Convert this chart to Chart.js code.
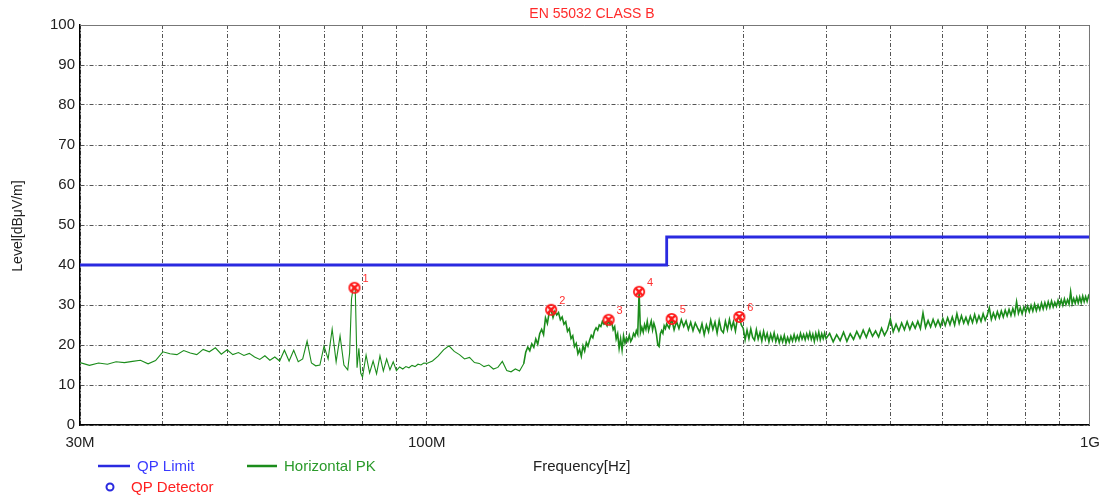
<!DOCTYPE html>
<html>
<head>
<meta charset="utf-8">
<script src="https://cdn.jsdelivr.net/npm/chart.js@4/dist/chart.umd.min.js"></script>
<style>
  html, body { margin: 0; padding: 0; background: #fff; }
</style>
</head>
<body>
<canvas id="emc" width="1109" height="500"></canvas>
<script>
// frequency in MHz, level in dBuV/m
const xGridTicks = [30, 40, 50, 60, 70, 80, 90, 100, 200, 300, 400, 500, 600, 700, 800, 900, 1000];
const xLabelValues = [30, 100, 1000];
const xLabelText = ['30M', '100M', '1G'];

const limitFreq = [30, 230, 230, 1000];
const limitLevel = [40, 40, 47, 47];

const markerFreq = [77.8, 154, 188, 209, 234, 296];
const markerLevel = [34.3, 28.8, 26.3, 33.3, 26.5, 27.0];
const markerText = ['1', '2', '3', '4', '5', '6'];

const pkFreq = [
  30, 31, 32, 33, 34, 35, 36, 37, 38, 39,
  40, 41, 42, 43, 44, 45, 46, 47, 48, 49,
  50, 51, 52, 53, 54, 55, 56, 57, 58, 59,
  60,
  61, 62, 63, 64, 65, 66, 67, 68, 69, 70,
  71, 72, 73, 74, 75, 76, 76.5, 77, 77.5, 78,
  78.5, 79, 79.5, 80, 81, 82, 83, 84, 85, 86,
  87, 88, 89, 90, 91, 92, 93, 94, 95, 96,
  97, 98, 99, 100,
  102, 104, 106, 108, 110, 112, 114, 116, 118, 120,
  122, 124, 126, 128, 130, 132, 134, 136, 138, 140,
  141, 142, 143, 144, 145, 146, 147, 148, 149, 150,
  151, 152, 153, 154, 155, 156, 157, 158, 159, 160,
  161, 162, 163, 164, 165, 166, 167, 168, 169, 170,
  171, 172, 173, 174, 175, 176, 177, 178, 179, 180,
  181, 182, 183, 184, 185, 186, 187, 188, 189, 190,
  191, 192, 193, 194, 195, 196, 197, 198, 199, 200,
  201, 202, 203, 204, 205, 206, 207, 208, 209, 210,
  211, 212, 213, 214, 215, 216, 217, 218, 219, 220,
  221, 222, 223, 224, 225, 226, 227, 228, 229, 230,
  232, 234, 236, 238, 240, 242, 244, 246, 248, 250,
  252, 254, 256, 258, 260, 262, 264, 266, 268, 270,
  272, 274, 276, 278, 280, 282, 284, 286, 288, 290,
  292, 294, 296, 298, 300, 302, 304, 306, 308, 310,
  312, 314, 316, 318, 320, 322, 324, 326, 328, 330,
  332, 334, 336, 338, 340, 342, 344, 346, 348, 350,
  352, 354, 356, 358, 360, 362, 364, 366, 368, 370,
  372, 374, 376, 378, 380, 382, 384, 386, 388, 390,
  392, 394, 396, 398, 400,
  405, 410, 415, 420, 425, 430, 435, 440, 445, 450,
  455, 460, 465, 470, 475, 480, 485, 490, 495, 500,
  505, 510, 515, 520, 525, 530, 535, 540, 545, 550,
  555, 560, 565, 570, 575, 580, 585, 590, 595, 600,
  605, 610, 615, 620, 625, 630, 635, 640, 645, 650,
  655, 660, 665, 670, 675, 680, 685, 690, 695, 700,
  705, 710, 715, 720, 725, 730, 735, 740, 745, 750,
  755, 760, 765, 770, 775, 780, 785, 790, 795, 800,
  805, 810, 815, 820, 825, 830, 835, 840, 845, 850,
  855, 860, 865, 870, 875, 880, 885, 890, 895, 900,
  905, 910, 915, 920, 925, 930, 935, 940, 945, 950,
  955, 960, 965, 970, 975, 980, 985, 990, 995, 1000
];

const pkLevel = [
  15.6, 14.9, 15.5, 15.2, 15.8, 15.6, 15.9, 16.2, 15.3, 16.1,
  18.3, 17.8, 17.6, 18.6, 18.0, 17.6, 18.9, 18.3, 19.3, 17.7,
  18.8, 17.6, 18.1, 17.4, 17.9, 17.0, 16.4, 17.3, 16.2, 17.0,
  16.0,
  18.7, 16.0, 18.7, 15.8, 16.5, 21.0, 15.5, 14.8, 15.0, 19.7,
  16.5, 24.0, 15.8, 22.3, 15.0, 13.8, 18.0, 31.5, 34.6, 34.3,
  14.3, 19.2, 13.0, 12.0, 17.5, 13.0, 16.0, 12.8, 17.3, 13.5,
  16.5, 13.8, 15.8, 13.6, 14.5, 14.0, 14.6, 14.3, 14.9, 14.6,
  15.2, 15.0, 15.5, 15.4,
  16.0, 17.2, 18.8, 19.8, 18.4, 17.6, 16.5, 16.9, 15.6, 15.4,
  14.6, 15.0, 14.0, 14.4, 15.9, 13.6, 13.3, 14.0, 13.5, 15.3,
  18.2, 19.5, 18.6, 20.3, 19.4, 21.5, 20.2, 22.8, 23.9, 22.6,
  26.8, 25.4, 28.2, 28.8, 26.9, 28.4, 27.5, 28.1, 26.3, 27.0,
  25.2, 25.8, 23.4, 24.1, 21.6, 22.3, 19.6, 20.4, 17.8, 18.9,
  17.2, 19.8, 18.5, 20.6, 19.7, 21.2, 22.4, 21.8, 23.5, 24.3,
  23.7, 25.0, 24.6, 25.9, 25.2, 25.6, 24.8, 26.2, 25.1, 25.7,
  23.8, 24.6, 21.5, 22.8, 19.2, 21.6, 18.8, 22.3, 20.5, 21.8,
  21.0, 22.4, 20.9, 21.6, 22.9, 22.2, 23.6, 22.7, 33.3, 23.1,
  24.4, 23.2, 25.1, 23.9, 25.9, 23.6, 24.8, 26.0, 23.8, 25.4,
  24.3, 22.6, 20.0, 19.6, 22.8, 23.6, 22.9, 24.8, 24.1, 25.3,
  24.2, 26.5, 23.8, 25.9, 24.1, 26.3, 24.6, 26.0, 23.9, 25.7,
  23.6, 25.5, 24.3, 23.2, 25.3, 22.6, 25.0, 23.3, 26.2, 23.9,
  25.7, 23.0, 26.1, 23.7, 23.1, 25.9, 23.8, 26.4, 24.1, 25.8,
  23.5, 26.6, 27.0, 25.0, 24.2, 21.3, 23.7, 21.6, 24.0, 21.9,
  21.2, 23.8, 21.5, 23.1, 21.0, 23.4, 21.4, 22.9, 20.8, 22.7,
  21.2, 23.0, 20.9, 22.3, 20.6, 22.1, 20.8, 22.4, 20.5, 21.9,
  20.7, 22.2, 21.0, 22.6, 21.1, 22.3, 21.2, 22.9, 21.5, 22.6,
  21.3, 22.8, 21.6, 23.1, 21.4, 22.7, 20.9, 22.9, 21.5, 23.2,
  21.3, 22.8, 21.6, 23.0, 21.6,
  22.9, 20.8, 22.6, 21.1, 23.2, 20.9, 22.8, 21.4, 23.4, 21.7,
  23.7, 21.9, 24.0, 22.2, 23.5, 22.0, 24.2, 22.4, 23.8, 26.5,
  23.3, 25.2, 23.5, 25.5, 23.8, 25.8, 23.9, 25.6, 24.2, 25.9,
  24.1, 28.0, 24.4, 26.1, 24.5, 26.4, 24.7, 26.2, 24.6, 26.6,
  24.9, 26.8, 25.1, 27.0, 25.0, 27.8, 25.4, 27.3, 25.5, 26.9,
  25.3, 27.2, 25.6, 27.6, 25.7, 27.3, 25.9, 27.8, 26.2, 27.5,
  29.3, 26.4, 28.0, 26.6, 28.3, 26.8, 28.5, 27.0, 28.7, 27.3,
  28.9, 27.4, 29.1, 27.6, 30.8, 27.9, 29.3, 27.8, 29.5, 28.2,
  29.7, 28.3, 29.9, 28.5, 30.2, 28.6, 30.0, 28.8, 30.5, 29.0,
  30.6, 29.2, 30.8, 29.4, 31.0, 29.5, 30.7, 29.7, 31.2, 29.8,
  31.3, 29.9, 31.5, 30.1, 31.3, 30.2, 33.3, 30.3, 31.6, 30.4,
  31.9, 30.5, 32.0, 30.6, 32.2, 30.8, 32.1, 30.9, 32.3, 31.6
];

const FONT = '"Liberation Sans", Arial, sans-serif';
const pts = (xs, ys) => xs.map((x, i) => ({ x: x, y: ys[i] }));

// red QP marker: ring with a cross
const markerImg = document.createElement('canvas');
markerImg.width = 14;
markerImg.height = 14;
(function () {
  const m = markerImg.getContext('2d');
  m.strokeStyle = '#ff1a1a';
  m.lineWidth = 1.8;
  m.beginPath();
  m.arc(7, 7, 5.2, 0, Math.PI * 2);
  m.stroke();
  m.lineWidth = 2.6;
  m.beginPath();
  m.moveTo(3.2, 3.2); m.lineTo(10.8, 10.8);
  m.moveTo(10.8, 3.2); m.lineTo(3.2, 10.8);
  m.stroke();
})();

const decor = {
  id: 'decor',
  afterDatasetsDraw(chart) {
    const ctx = chart.ctx;
    const meta = chart.getDatasetMeta(0);
    ctx.save();
    ctx.fillStyle = '#ff3030';
    ctx.font = '11px ' + FONT;
    ctx.textBaseline = 'alphabetic';
    meta.data.forEach((p, i) => {
      ctx.fillText(markerText[i], p.x + 8, p.y - 6);
    });
    ctx.restore();
  },
  afterDraw(chart) {
    const ctx = chart.ctx;
    const a = chart.chartArea;
    ctx.save();
    // frame
    ctx.strokeStyle = '#777';
    ctx.lineWidth = 1;
    ctx.beginPath();
    ctx.moveTo(a.left, a.top + 0.5);
    ctx.lineTo(a.right - 0.5, a.top + 0.5);
    ctx.lineTo(a.right - 0.5, a.bottom);
    ctx.stroke();

    // title
    ctx.fillStyle = '#ff2a2a';
    ctx.font = '14px ' + FONT;
    ctx.textAlign = 'center';
    ctx.textBaseline = 'middle';
    ctx.fillText('EN 55032 CLASS B', 592, 14);

    // axis titles
    ctx.fillStyle = '#222';
    ctx.font = '15px ' + FONT;
    ctx.textAlign = 'left';
    ctx.fillText('Frequency[Hz]', 533, 467);
    ctx.save();
    ctx.translate(18, 226);
    ctx.rotate(-Math.PI / 2);
    ctx.textAlign = 'center';
    ctx.font = '14px ' + FONT;
    ctx.fillText('Level[dB\u03bcV/m]', 0, 0);
    ctx.restore();

    // legend
    ctx.lineWidth = 2.5;
    ctx.strokeStyle = '#2a2ae0';
    ctx.beginPath(); ctx.moveTo(98, 466); ctx.lineTo(130, 466); ctx.stroke();
    ctx.strokeStyle = '#1b8c1b';
    ctx.beginPath(); ctx.moveTo(247, 466); ctx.lineTo(277, 466); ctx.stroke();
    ctx.strokeStyle = '#2a2ae0';
    ctx.lineWidth = 2;
    ctx.beginPath(); ctx.arc(110, 487, 3.5, 0, Math.PI * 2); ctx.stroke();
    ctx.font = '15px ' + FONT;
    ctx.fillStyle = '#3a3aff';
    ctx.fillText('QP Limit', 137, 467);
    ctx.fillStyle = '#2a9a2a';
    ctx.fillText('Horizontal PK', 284, 467);
    ctx.fillStyle = '#ff2020';
    ctx.fillText('QP Detector', 131, 488);
    ctx.restore();
  }
};

const gridStyle = { color: '#555', lineWidth: 1, drawTicks: false };
const borderStyle = { display: true, color: '#000', width: 1.5, dash: [4, 2, 1, 2] };

new Chart(document.getElementById('emc'), {
  type: 'line',
  data: {
    datasets: [
      {
        label: 'QP Detector',
        data: pts(markerFreq, markerLevel),
        showLine: false,
        pointStyle: markerImg,
        pointRadius: 7,
        order: 0
      },
      {
        label: 'QP Limit',
        data: pts(limitFreq, limitLevel),
        borderColor: '#2a2ae0',
        borderWidth: 2.8,
        pointRadius: 0,
        order: 1
      },
      {
        label: 'Horizontal PK',
        data: pts(pkFreq, pkLevel),
        borderColor: '#1b8c1b',
        borderWidth: 1.2,
        pointRadius: 0,
        segment: {
          borderWidth: c => (c.p0.parsed.x >= 140 ? 1.6 : 1.1)
        },
        order: 2
      }
    ]
  },
  options: {
    responsive: false,
    animation: false,
    layout: { padding: { left: 0, right: 17, top: 25, bottom: 0 } },
    plugins: { legend: { display: false }, tooltip: { enabled: false } },
    scales: {
      x: {
        type: 'logarithmic',
        min: 30,
        max: 1000,
        afterBuildTicks: s => { s.ticks = xGridTicks.map(v => ({ value: v })); },
        afterFit: s => { s.height = 75; },
        ticks: {
          autoSkip: false,
          maxRotation: 0,
          padding: 9,
          color: '#222',
          font: { family: FONT, size: 15 },
          callback: v => {
            const i = xLabelValues.indexOf(v);
            return i < 0 ? '' : xLabelText[i];
          }
        },
        grid: gridStyle,
        border: borderStyle
      },
      y: {
        min: 0,
        max: 100,
        afterFit: s => { s.width = 80; },
        ticks: {
          stepSize: 10,
          padding: 5,
          color: '#222',
          font: { family: FONT, size: 15 }
        },
        grid: gridStyle,
        border: borderStyle
      }
    }
  },
  plugins: [decor]
});
</script>
</body>
</html>
